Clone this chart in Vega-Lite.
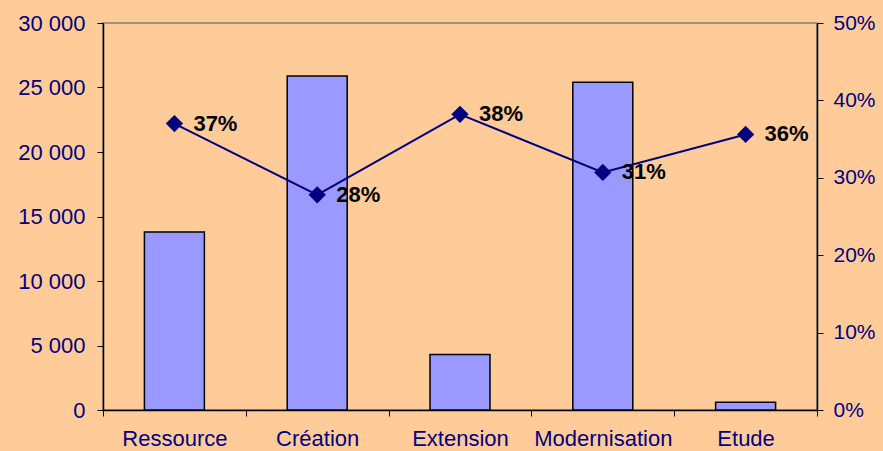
{
  "$schema": "https://vega.github.io/schema/vega-lite/v6.json",
  "autosize": "none",
  "width": 714,
  "height": 387,
  "padding": {"left": 103, "top": 23, "right": 66, "bottom": 41},
  "background": "#FFCC99",
  "config": {
    "font": "Liberation Sans",
    "view": {"stroke": "#808080", "strokeWidth": 1.5},
    "axis": {"labelFont": "Liberation Sans", "labelFontSize": 22, "labelColor": "#000080", "domainColor": "#000000", "tickColor": "#000000", "grid": false, "title": null}
  },
  "data": {"values": [
    {"cat": "Ressource", "montant": 13800, "taux": 0.37},
    {"cat": "Création", "montant": 25900, "taux": 0.278},
    {"cat": "Extension", "montant": 4300, "taux": 0.382},
    {"cat": "Modernisation", "montant": 25400, "taux": 0.307},
    {"cat": "Etude", "montant": 600, "taux": 0.356}
  ]},
  "encoding": {
    "x": {"field": "cat", "type": "nominal", "sort": null,
      "scale": {"paddingInner": 0, "paddingOuter": 0},
      "axis": {"labelAngle": 0, "tickBand": "extent", "tickSize": 6, "labelPadding": 12, "domainWidth": 1.5, "labelFlush": false, "labelOverlap": false}}
  },
  "layer": [
    {
      "mark": {"type": "bar", "fill": "#9999FF", "stroke": "#000000", "strokeWidth": 1.5, "width": {"band": 0.42}},
      "encoding": {
        "y": {"field": "montant", "type": "quantitative",
          "scale": {"domain": [0, 30000], "nice": false},
          "axis": {"values": [0, 5000, 10000, 15000, 20000, 25000, 30000], "labelExpr": "replace(format(datum.value, ','), ',', ' ')", "tickSize": 6, "labelPadding": 12, "domainWidth": 1.5}}
      }
    },
    {
      "encoding": {
        "y": {"field": "taux", "type": "quantitative",
          "scale": {"domain": [0, 0.5], "nice": false},
          "axis": {"orient": "right", "values": [0, 0.1, 0.2, 0.3, 0.4, 0.5], "format": ".0%", "tickSize": 6, "labelPadding": 10, "labelAlign": "left", "labelFontSize": 21, "domainWidth": 1.5}}
      },
      "layer": [
        {"mark": {"type": "line", "color": "#000080", "strokeWidth": 2}},
        {"mark": {"type": "point", "shape": "diamond", "filled": true, "color": "#000080", "size": 300, "opacity": 1}},
        {"mark": {"type": "text", "align": "left", "baseline": "middle", "dx": 19, "fontSize": 22, "fontWeight": "bold", "color": "#000000"},
          "encoding": {"text": {"field": "taux", "type": "quantitative", "format": ".0%"}}}
      ]
    }
  ],
  "resolve": {"scale": {"y": "independent"}}
}
